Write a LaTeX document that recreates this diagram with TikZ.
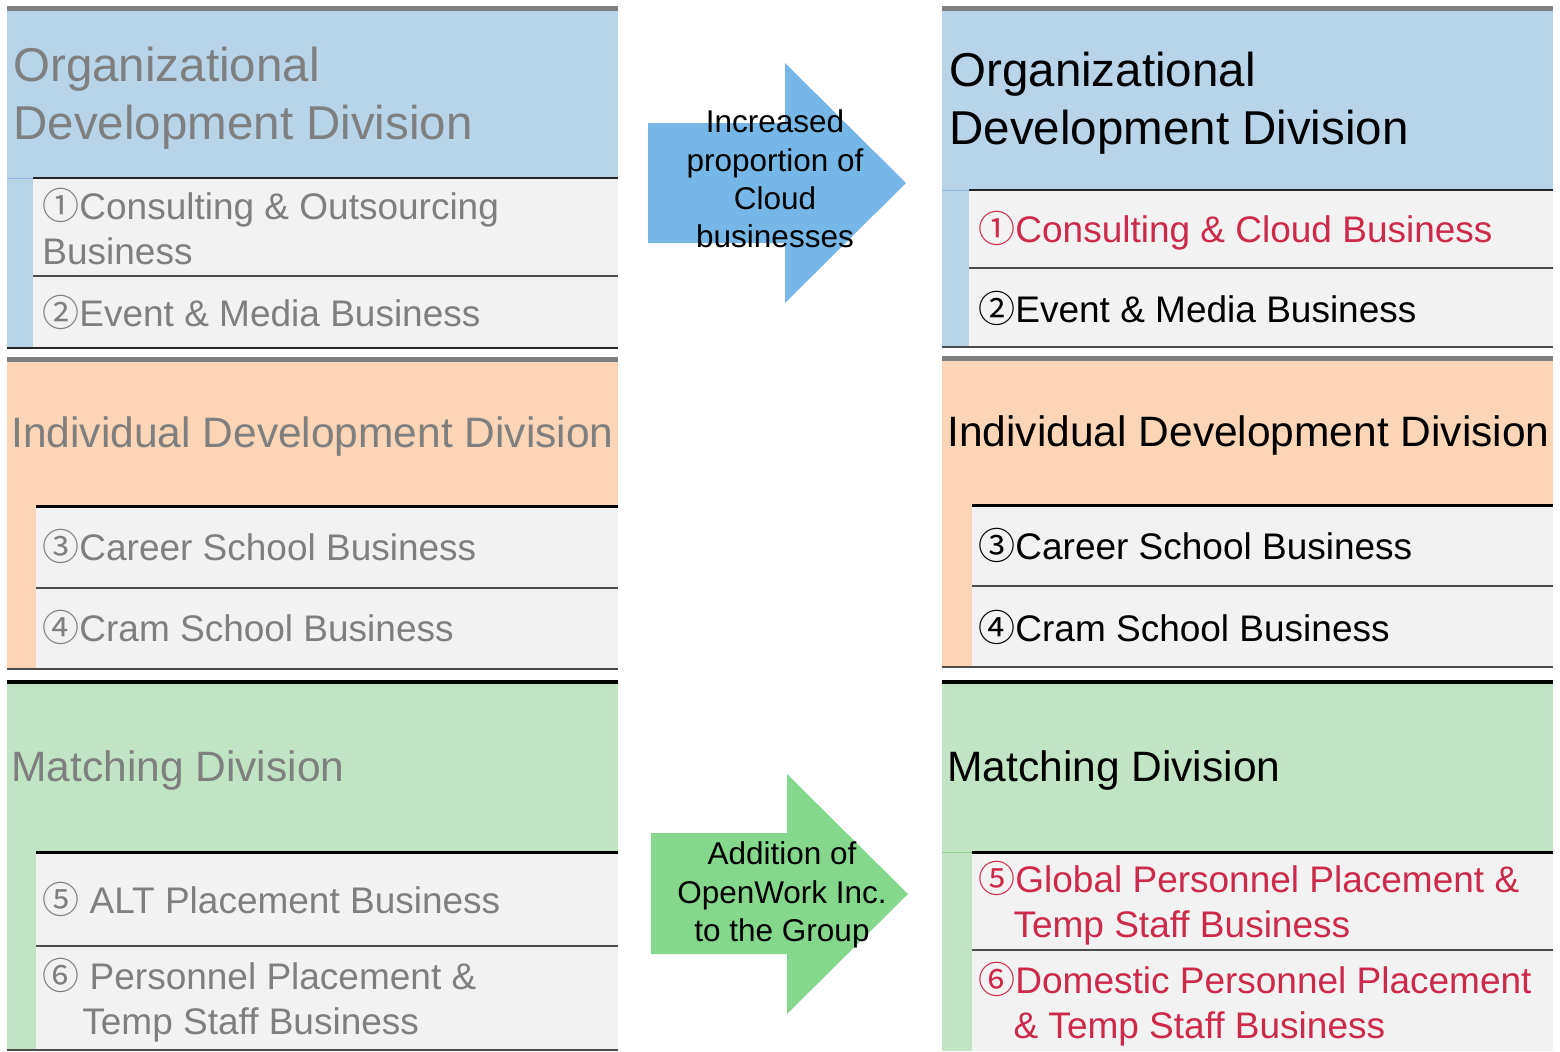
\documentclass[tikz,border=0pt]{standalone}
\usepackage{fontspec}
\setmainfont{Liberation Sans}
\newfontfamily\kreisfont{Noto Sans CJK JP}
\usepackage{tikz}

\definecolor{blaukopf}{HTML}{B7D4E9}
\definecolor{orangekopf}{HTML}{FBD5B5}
\definecolor{gruenkopf}{HTML}{C1E4C5}
\definecolor{zeilgrau}{HTML}{F2F2F2}
\definecolor{balkengrau}{HTML}{808080}
\definecolor{altgrau}{HTML}{7F7F7F}
\definecolor{neurot}{HTML}{CD2A4B}
\definecolor{pfeilblau}{HTML}{76B7E8}
\definecolor{pfeilgruen}{HTML}{85D78C}
\definecolor{blaustrich}{HTML}{8DB8E6}
\definecolor{gruenstrich}{HTML}{8FD196}

\newcommand{\kreis}[1]{{\kreisfont #1}}

\tikzset{
  kopf/.style={anchor=west, inner sep=0pt, align=left, font=\fontsize{23.75}{28.75}\selectfont},
  kopfzeile/.style={anchor=west, inner sep=0pt, font=\fontsize{21.25}{25.5}\selectfont},
  zeile/.style={anchor=west, inner sep=0pt, align=left, font=\fontsize{18.5}{22.5}\selectfont},
  pfeiltext/.style={inner sep=0pt, align=center, font=\fontsize{15.75}{19.2}\selectfont},
  balken/.style={line width=2.5pt, balkengrau},
  trenn/.style={line width=1pt, black!85},
  trennhell/.style={line width=1pt, black!70},
  trenndick/.style={line width=1.5pt, black},
}

\begin{document}
\begin{tikzpicture}[x=0.5pt, y=-0.5pt]
\useasboundingbox (0,0) rectangle (1560,1051);

% ---- linke Spalte (vorher) ----
% Organizational Development Division
\fill[blaukopf] (7,11) rectangle (618,348);
\fill[zeilgrau] (33,178) rectangle (618,348);
\draw[balken] (7,8.5) -- (618,8.5);
\draw[line width=0.5pt, blaustrich] (7,178) -- (33,178);
\draw[trenn] (33,178) -- (618,178); % erste Zeile
\draw[trennhell] (33,276) -- (618,276); % zweite Zeile
\draw[trenn] (7,348) -- (618,348);
\node[kopf, altgrau] (orgalt) at (13,98) {Organizational\\Development Division};
\node[zeile, altgrau] (cons) at (42,227) {\kreis{①}Consulting \& Outsourcing\\Business};
\node[zeile, altgrau] (eventalt) at (42,312) {\kreis{②}Event \& Media Business};

% Individual Development Division
\fill[orangekopf] (7,362) rectangle (618,668);
\fill[zeilgrau] (36,506) rectangle (618,668);
\draw[balken] (7,359.5) -- (618,359.5);
\draw[trenndick] (36,506) -- (618,506);
\draw[trennhell] (36,588) -- (618,588);
\draw[trennhell] (7,668.5) -- (618,668.5);
\node[kopfzeile, altgrau] (indalt) at (11,437) {Individual Development Division};
\node[zeile, altgrau] (careeralt) at (42,546) {\kreis{③}Career School Business};
\node[zeile, altgrau] (cramalt) at (42,627) {\kreis{④}Cram School Business};

% Matching Division
\fill[gruenkopf] (7,684) rectangle (618,1049);
\fill[zeilgrau] (36,852) rectangle (618,1049);
\draw[line width=1.75pt, black] (7,682) -- (618,682);
\draw[trenndick] (36,852) -- (618,852);
\draw[trennhell] (36,946) -- (618,946);
\draw[trennhell] (7,1049.5) -- (618,1049.5);
\node[kopfzeile, altgrau] (matchalt) at (11,771) {Matching Division};
\node[zeile, altgrau] (alt) at (42,899) {\kreis{⑤} ALT Placement Business};
\node[zeile, altgrau] (persalt) at (42,1000) {\kreis{⑥} Personnel Placement \&\\\hspace*{1.08em}Temp Staff Business};

% ---- Pfeile ----
\fill[pfeilblau] (648,123) -- (785,123) -- (785,63) -- (906,183) -- (785,303) -- (785,243) -- (648,243) -- cycle;
\node[pfeiltext] (cloud) at (775,179) {Increased\\proportion of\\Cloud\\businesses};
\fill[pfeilgruen] (651,833) -- (787,833) -- (787,774) -- (908,894) -- (787,1014) -- (787,954) -- (651,954) -- cycle;
\node[pfeiltext] (openwork) at (782,895) {Addition of\\OpenWork Inc.\\to the Group};

% ---- rechte Spalte (nachher) ----
% Organizational Development Division
\fill[blaukopf] (942,11) rectangle (1553,347);
\fill[zeilgrau] (969,190) rectangle (1553,347);
\draw[balken] (942,8) -- (1553,8);
\draw[line width=0.5pt, blaustrich] (942,190) -- (969,190);
\draw[trenn] (969,190) -- (1553,190);
\draw[trennhell] (969,268) -- (1553,268);
\draw[trennhell] (942,347) -- (1553,347);
\node[kopf] (orgneu) at (949,103) {Organizational\\Development Division};
\node[zeile, neurot] (cloudneu) at (978,231) {\kreis{①}Consulting \& Cloud Business};
\node[zeile] (eventneu) at (978,308) {\kreis{②}Event \& Media Business};

% Individual Development Division
\fill[orangekopf] (942,361) rectangle (1553,666);
\fill[zeilgrau] (972,505) rectangle (1553,666);
\draw[balken] (942,358.5) -- (1553,358.5);
\draw[trenndick] (972,505) -- (1553,505);
\draw[trennhell] (972,586) -- (1553,586);
\draw[trennhell] (942,666.5) -- (1553,666.5);
\node[kopfzeile] (indneu) at (947,436) {Individual Development Division};
\node[zeile] (careerneu) at (978,545) {\kreis{③}Career School Business};
\node[zeile] (cramneu) at (978,627) {\kreis{④}Cram School Business};

% Matching Division
\fill[gruenkopf] (942,684) rectangle (1553,1051);
\fill[zeilgrau] (972,852) rectangle (1553,1051);
\draw[line width=1.75pt, black] (942,682) -- (1553,682);
\draw[line width=0.5pt, gruenstrich] (942,852) -- (972,852);
\draw[trenndick] (972,852) -- (1553,852);
\draw[trennhell] (972,950) -- (1553,950);
\node[kopfzeile] (matchneu) at (947,771) {Matching Division};
\node[zeile, neurot] (global) at (978,903) {\kreis{⑤}Global Personnel Placement \&\\\hspace*{0.95em}Temp Staff Business};
\node[zeile, neurot] (domestic) at (978,1004) {\kreis{⑥}Domestic Personnel Placement\\\hspace*{0.95em}\& Temp Staff Business};
\end{tikzpicture}
\end{document}
